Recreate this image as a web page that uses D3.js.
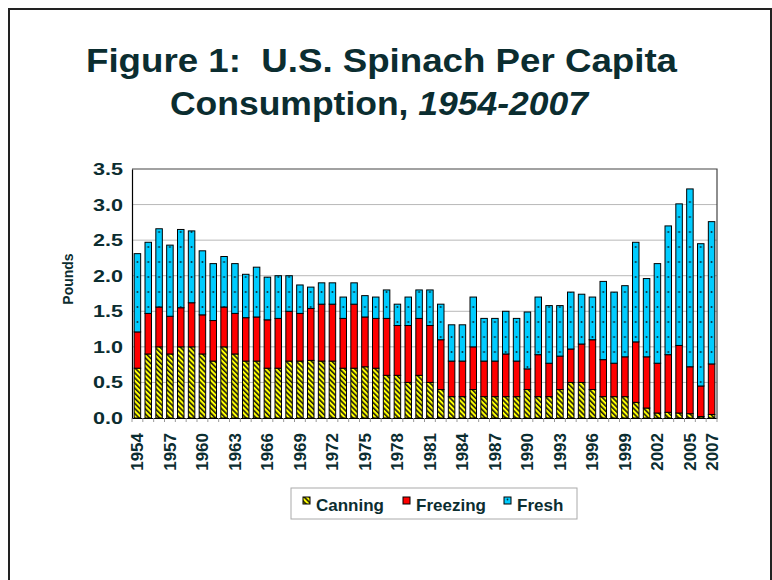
<!DOCTYPE html>
<html>
<head>
<meta charset="utf-8">
<script src="https://cdn.jsdelivr.net/npm/d3@7"></script>
<style>
body { margin: 0; background: #fff; }
svg { display: block; }
text { font-family: "Liberation Sans", Arial, sans-serif; font-weight: bold; }
</style>
</head>
<body>
<svg id="chart" width="772" height="580"></svg>
<script>
// values (pounds per person)
var years = [1954, 1955, 1956, 1957, 1958, 1959, 1960, 1961, 1962, 1963,
  1964, 1965, 1966, 1967, 1968, 1969, 1970, 1971, 1972, 1973,
  1974, 1975, 1976, 1977, 1978, 1979, 1980, 1981, 1982, 1983,
  1984, 1985, 1986, 1987, 1988, 1989, 1990, 1991, 1992, 1993,
  1994, 1995, 1996, 1997, 1998, 1999, 2000, 2001, 2002, 2003,
  2004, 2005, 2006, 2007];
var canning = [0.70, 0.90, 1.00, 0.90, 1.00, 1.00, 0.90, 0.80, 1.00, 0.90,
  0.80, 0.80, 0.70, 0.70, 0.80, 0.80, 0.81, 0.80, 0.80, 0.70,
  0.70, 0.72, 0.70, 0.60, 0.60, 0.50, 0.60, 0.50, 0.40, 0.30,
  0.30, 0.40, 0.30, 0.30, 0.30, 0.30, 0.40, 0.30, 0.30, 0.40,
  0.50, 0.50, 0.40, 0.30, 0.30, 0.30, 0.22, 0.14, 0.07, 0.08,
  0.07, 0.06, 0.02, 0.05];
var freezing = [0.51, 0.57, 0.56, 0.53, 0.55, 0.62, 0.55, 0.57, 0.56, 0.57,
  0.61, 0.62, 0.68, 0.70, 0.70, 0.67, 0.73, 0.80, 0.80, 0.70,
  0.90, 0.70, 0.70, 0.80, 0.70, 0.80, 0.80, 0.80, 0.70, 0.50,
  0.50, 0.60, 0.50, 0.50, 0.60, 0.50, 0.29, 0.59, 0.47, 0.47,
  0.47, 0.54, 0.70, 0.52, 0.47, 0.56, 0.85, 0.72, 0.70, 0.81,
  0.95, 0.66, 0.43, 0.71];
var fresh = [1.10, 1.00, 1.10, 1.00, 1.10, 1.01, 0.90, 0.80, 0.71, 0.70,
  0.61, 0.70, 0.60, 0.60, 0.50, 0.40, 0.30, 0.30, 0.30, 0.30,
  0.30, 0.30, 0.30, 0.40, 0.30, 0.40, 0.40, 0.50, 0.50, 0.51,
  0.51, 0.70, 0.60, 0.60, 0.60, 0.60, 0.80, 0.81, 0.81, 0.71,
  0.80, 0.70, 0.60, 1.10, 1.00, 1.00, 1.40, 1.10, 1.40, 1.81,
  1.99, 2.50, 2.00, 2.00];
var seriesNames = ["Canning", "Freezing", "Fresh"];
var yTicks = [0, 0.5, 1, 1.5, 2, 2.5, 3, 3.5];
var xLabelYears = [1954, 1957, 1960, 1963, 1966, 1969, 1972, 1975, 1978, 1981,
  1984, 1987, 1990, 1993, 1996, 1999, 2002, 2005, 2007];

var ink = "#0b2d30";
var svg = d3.select("#chart");

var rows = years.map(function(yr, i) {
  return { year: yr, Canning: canning[i], Freezing: freezing[i], Fresh: fresh[i] };
});
var stacked = d3.stack().keys(seriesNames)(rows);

var x = d3.scaleBand().domain(years).range([132, 717]).paddingInner(0.4).paddingOuter(0.2);
var y = d3.scaleLinear().domain([0, 3.5]).range([418, 169]);

// patterns
var defs = svg.append("defs");
var hatch = defs.append("pattern").attr("id", "hatch")
  .attr("patternUnits", "userSpaceOnUse").attr("width", 3.6).attr("height", 3.6)
  .attr("patternTransform", "rotate(-45)");
hatch.append("rect").attr("width", 3.6).attr("height", 3.6).attr("fill", "#ffff00");
hatch.append("line").attr("x1", 0.8).attr("y1", 0).attr("x2", 0.8).attr("y2", 3.6)
  .attr("stroke", "#111").attr("stroke-width", 1.5);

var dots = defs.append("pattern").attr("id", "dots")
  .attr("patternUnits", "userSpaceOnUse")
  .attr("x", x(years[0]) + x.bandwidth() / 2 - x.step() / 2).attr("y", 0)
  .attr("width", x.step()).attr("height", 15);
dots.append("rect").attr("width", x.step()).attr("height", 15).attr("fill", "#00ccff");
dots.append("circle").attr("cx", x.step() / 2).attr("cy", 7).attr("r", 1).attr("fill", "#0d3038");

var fills = { Canning: "url(#hatch)", Freezing: "#ff0000", Fresh: "url(#dots)" };

// outer frame
svg.append("rect").attr("x", 9).attr("y", 9).attr("width", 762).attr("height", 620)
  .attr("fill", "none").attr("stroke", "#222").attr("stroke-width", 2);

// title
svg.append("text").attr("x", 381.5).attr("y", 72).attr("text-anchor", "middle")
  .attr("font-size", 34).attr("fill", ink).style("white-space", "pre")
  .attr("textLength", 591).attr("lengthAdjust", "spacingAndGlyphs")
  .text("Figure 1:  U.S. Spinach Per Capita");
var t2 = svg.append("text").attr("x", 379).attr("y", 115).attr("text-anchor", "middle")
  .attr("font-size", 34).attr("fill", ink).style("white-space", "pre")
  .attr("textLength", 418).attr("lengthAdjust", "spacingAndGlyphs");
t2.append("tspan").text("Consumption, ");
t2.append("tspan").attr("font-style", "italic").text("1954-2007");

// gridlines
svg.append("g").selectAll("line").data(yTicks.filter(function(d) { return d > 0 && d < 3.5; }))
  .enter().append("line")
  .attr("x1", 132).attr("x2", 717)
  .attr("y1", function(d) { return y(d); }).attr("y2", function(d) { return y(d); })
  .attr("stroke", "#b8b8b8").attr("stroke-width", 1);

// plot frame top / right
svg.append("path").attr("d", "M132," + y(3.5) + "H717V" + y(0))
  .attr("fill", "none").attr("stroke", "#444").attr("stroke-width", 1.2);

// bars
svg.append("g").selectAll("g").data(stacked).enter().append("g")
  .attr("fill", function(s) { return fills[s.key]; })
  .selectAll("rect").data(function(s) { return s; }).enter().append("rect")
  .attr("x", function(d) { return x(d.data.year); })
  .attr("width", x.bandwidth())
  .attr("y", function(d) { return y(d[1]); })
  .attr("height", function(d) { return y(d[0]) - y(d[1]); })
  .attr("stroke", "#000").attr("stroke-width", 1);

// x axis
var xAxis = svg.append("g").attr("transform", "translate(0," + y(0) + ")")
  .call(d3.axisBottom(x).tickValues(xLabelYears).tickSize(0));
xAxis.select(".domain").attr("stroke", "#000").attr("stroke-width", 1.2);
xAxis.selectAll("text")
  .attr("transform", "translate(0,15) rotate(-90)")
  .attr("x", 0).attr("y", 0).attr("dy", "0.35em")
  .attr("text-anchor", "end").attr("font-size", 17).attr("fill", ink)
  .style("font-family", "'Liberation Sans', Arial, sans-serif").style("font-weight", "bold");
// category separators
var bounds = years.map(function(yr) { return x(yr) - x.step() * x.paddingInner() / 2; });
bounds.push(x(years[years.length - 1]) + x.bandwidth() + x.step() * x.paddingInner() / 2);
xAxis.append("g").selectAll("line").data(bounds).enter().append("line")
  .attr("x1", function(d) { return d; }).attr("x2", function(d) { return d; })
  .attr("y1", 0).attr("y2", 4).attr("stroke", "#999");

// y axis
var yAxis = svg.append("g").attr("transform", "translate(132,0)")
  .call(d3.axisLeft(y).tickValues(yTicks).tickFormat(d3.format(".1f")).tickSize(0).tickPadding(9));
yAxis.select(".domain").attr("stroke", "#000").attr("stroke-width", 1.2);
yAxis.selectAll("text").attr("font-size", 17).attr("fill", ink)
  .attr("textLength", 30).attr("lengthAdjust", "spacingAndGlyphs")
  .style("font-family", "'Liberation Sans', Arial, sans-serif").style("font-weight", "bold");

svg.append("text").attr("transform", "translate(73,279) rotate(-90)")
  .attr("text-anchor", "middle").attr("font-size", 14).attr("fill", ink).text("Pounds");

// legend
var legend = svg.append("g");
legend.append("rect").attr("x", 291).attr("y", 488).attr("width", 286).attr("height", 31)
  .attr("fill", "#fff").attr("stroke", "#aaa").attr("stroke-width", 1);
var legendX = [303, 403, 504];
var items = legend.selectAll("g.item").data(seriesNames).enter().append("g")
  .attr("transform", function(d, i) { return "translate(" + legendX[i] + ",497)"; });
items.append("rect").attr("width", 7).attr("height", 7)
  .attr("fill", function(d) { return d === "Fresh" ? "#00ccff" : fills[d]; })
  .attr("stroke", "#000").attr("stroke-width", 1);
items.filter(function(d) { return d === "Fresh"; }).append("circle")
  .attr("cx", 3.5).attr("cy", 2.5).attr("r", 0.9).attr("fill", "#0d3038");
items.append("text").attr("x", 13).attr("y", 14).attr("font-size", 17).attr("fill", ink)
  .text(function(d) { return d; });
</script>
</body>
</html>
